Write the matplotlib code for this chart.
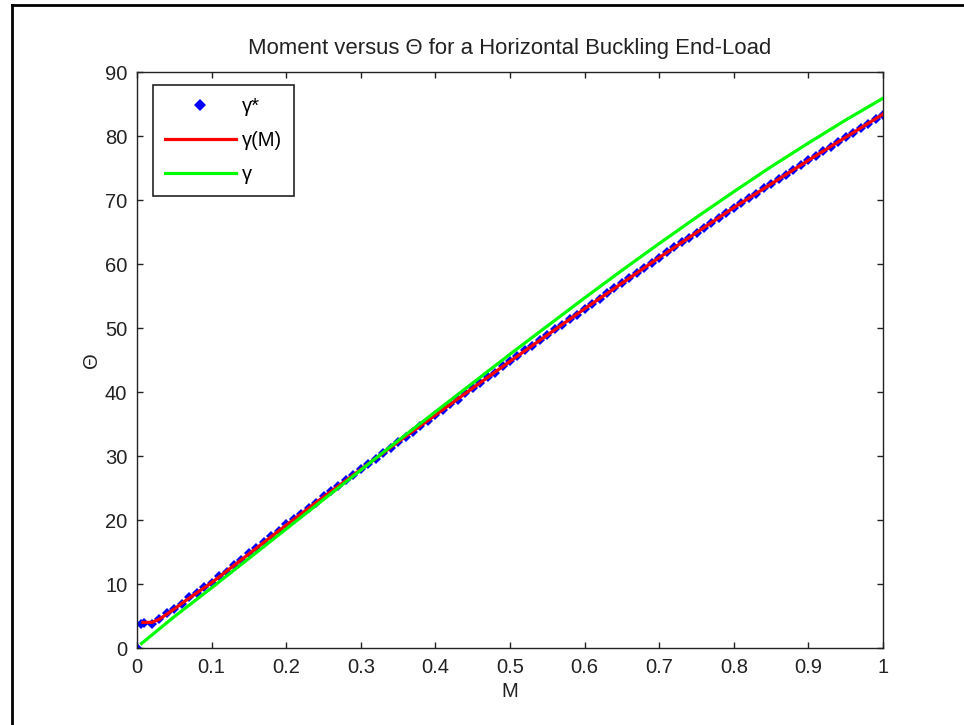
import matplotlib
matplotlib.use("Agg")
import matplotlib.pyplot as plt
from matplotlib.lines import Line2D

plt.rcParams['font.family'] = ['Liberation Sans', 'DejaVu Sans']

# === Data ===
# measured points (gamma*), including the outlier at the origin
blue_m = [0.0, 0.005, 0.01, 0.02, 0.03, 0.04, 0.05, 0.06, 0.07, 0.08, 0.09,
          0.10, 0.11, 0.12, 0.13, 0.14, 0.15, 0.16, 0.17, 0.18, 0.19,
          0.20, 0.21, 0.22, 0.23, 0.24, 0.25, 0.26, 0.27, 0.28, 0.29,
          0.30, 0.31, 0.32, 0.33, 0.34, 0.35, 0.36, 0.37, 0.38, 0.39,
          0.40, 0.41, 0.42, 0.43, 0.44, 0.45, 0.46, 0.47, 0.48, 0.49,
          0.50, 0.51, 0.52, 0.53, 0.54, 0.55, 0.56, 0.57, 0.58, 0.59,
          0.60, 0.61, 0.62, 0.63, 0.64, 0.65, 0.66, 0.67, 0.68, 0.69,
          0.70, 0.71, 0.72, 0.73, 0.74, 0.75, 0.76, 0.77, 0.78, 0.79,
          0.80, 0.81, 0.82, 0.83, 0.84, 0.85, 0.86, 0.87, 0.88, 0.89,
          0.90, 0.91, 0.92, 0.93, 0.94, 0.95, 0.96, 0.97, 0.98, 0.99, 1.00]
blue_theta = [0.0, 3.8, 3.9, 3.7, 4.5, 5.4, 6.1, 6.9, 7.9, 8.6, 9.5,
              10.2, 11.2, 11.9, 13.0, 13.8, 14.8, 15.7, 16.5, 17.5, 18.3,
              19.3, 20.1, 21.0, 21.9, 22.7, 23.7, 24.5, 25.3, 26.2, 27.0,
              27.9, 28.7, 29.6, 30.4, 31.3, 32.2, 33.0, 33.8, 34.7, 35.5,
              36.4, 37.2, 38.1, 38.8, 39.8, 40.6, 41.4, 42.3, 43.0, 44.0,
              44.8, 45.6, 46.5, 47.2, 48.1, 48.9, 49.8, 50.5, 51.4, 52.1,
              53.0, 53.8, 54.6, 55.4, 56.2, 57.0, 57.8, 58.6, 59.4, 60.2,
              61.0, 61.8, 62.6, 63.4, 64.1, 64.9, 65.7, 66.4, 67.2, 68.0,
              68.8, 69.5, 70.3, 71.0, 71.8, 72.5, 73.3, 73.9, 74.7, 75.4,
              76.2, 76.9, 77.6, 78.3, 79.1, 79.8, 80.5, 81.2, 81.9, 82.6, 83.3]

# fitted curve gamma(M)
red_m = [0.008, 0.02, 0.03, 0.04, 0.05, 0.07, 0.10, 0.15, 0.20, 0.25, 0.30,
         0.35, 0.40, 0.45, 0.50, 0.55, 0.60, 0.65, 0.70, 0.75, 0.80,
         0.85, 0.90, 0.95, 1.00]
red_theta = [4.0, 4.0, 4.5, 5.3, 6.1, 7.8, 10.2, 14.7, 19.2, 23.6, 27.9,
             32.2, 36.4, 40.6, 44.8, 48.9, 53.0, 57.0, 61.0, 64.9, 68.8,
             72.5, 76.2, 79.8, 83.4]

# gamma
green_m = [0.006, 0.05, 0.10, 0.15, 0.20, 0.25, 0.30, 0.35, 0.40, 0.45, 0.50,
           0.55, 0.60, 0.65, 0.70, 0.75, 0.80, 0.85, 0.90, 0.95, 1.00]
green_theta = [0.7, 4.9, 9.4, 14.0, 18.6, 23.2, 27.8, 32.4, 36.9, 41.4, 45.9,
               50.3, 54.7, 59.0, 63.2, 67.3, 71.3, 75.2, 78.9, 82.5, 85.9]

x_ticks = [0, 0.1, 0.2, 0.3, 0.4, 0.5, 0.6, 0.7, 0.8, 0.9, 1]
x_tick_labels = ['0', '0.1', '0.2', '0.3', '0.4', '0.5', '0.6', '0.7', '0.8', '0.9', '1']
y_ticks = [0, 10, 20, 30, 40, 50, 60, 70, 80, 90]

# === Plot ===
fig = plt.figure(figsize=(9.64, 7.25), dpi=100)
ax = fig.add_axes([137 / 964, 77 / 725, 746 / 964, 576 / 725])

ax.plot(blue_m, blue_theta, linestyle='none', marker='D', markersize=5.5,
        markeredgewidth=0, color='#0000ff', label='γ*', zorder=2)
ax.plot(red_m, red_theta, color='#ff0000', linewidth=2.3, label='γ(M)', zorder=3)
ax.plot(green_m, green_theta, color='#00ff00', linewidth=2.3, label='γ', zorder=4)

ax.set_xlim(0, 1)
ax.set_ylim(0, 90)
ax.set_xticks(x_ticks)
ax.set_xticklabels(x_tick_labels)
ax.set_yticks(y_ticks)
ax.tick_params(direction='in', length=4.5, width=1, top=True, right=True,
               labelsize=14.5, pad=7, colors='#222222', labelcolor='#222222')
for spine in ax.spines.values():
    spine.set_color('#222222')
    spine.set_linewidth(1)

ax.set_title('Moment versus Θ for a Horizontal Buckling End-Load',
             fontsize=15.9, pad=13, color='#222222')
ax.set_xlabel('M', fontsize=14.5, labelpad=4, color='#222222')
ax.set_ylabel('Θ', fontsize=14.5, labelpad=3, color='#222222')

leg = ax.legend(loc='upper left', bbox_to_anchor=(16 / 746, 1 - 13 / 576),
                borderaxespad=0, fontsize=14.5, handlelength=3.5,
                handletextpad=0.3, labelspacing=0.75, borderpad=0.6,
                numpoints=1, fancybox=False, framealpha=1)
leg.get_frame().set_edgecolor('#222222')
leg.get_frame().set_linewidth(1.2)
for h in leg.legend_handles:
    h.set_markersize(6)

# outer border (left and top edges visible in the reference)
fig.add_artist(Line2D([11.5 / 964, 11.5 / 964], [0, 1 - 4.5 / 725],
                      transform=fig.transFigure, color='black', linewidth=2))
fig.add_artist(Line2D([11.5 / 964, 1], [1 - 4.5 / 725, 1 - 4.5 / 725],
                      transform=fig.transFigure, color='black', linewidth=2))

fig.savefig('out.png', dpi=100)
